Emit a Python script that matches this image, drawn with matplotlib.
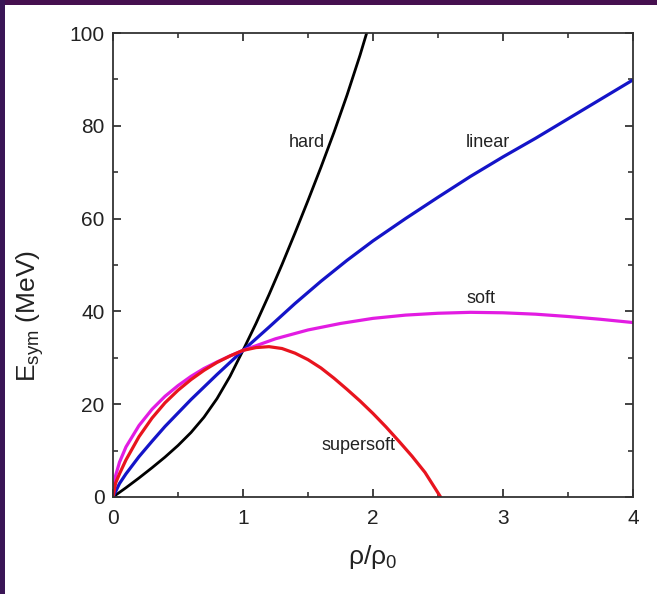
import matplotlib
matplotlib.use("Agg")
import matplotlib.pyplot as plt
from matplotlib.patches import Rectangle

plt.rcParams['font.family'] = ['Liberation Sans', 'DejaVu Sans']
plt.rcParams['mathtext.fontset'] = 'custom'
plt.rcParams['mathtext.rm'] = 'Liberation Sans'
plt.rcParams['mathtext.it'] = 'Liberation Sans:italic'

# ---- data ----
hard_x = [0, 0.1, 0.2, 0.3, 0.4, 0.5, 0.6, 0.7, 0.8, 0.9, 1.0, 1.1, 1.2, 1.3, 1.4, 1.5, 1.6, 1.7, 1.8, 1.9, 1.96]
hard_y = [0, 2.0, 4.1, 6.3, 8.6, 11.1, 13.9, 17.2, 21.2, 26.0, 31.6, 37.4, 43.6, 50.1, 56.9, 63.9, 71.1, 78.6, 86.6, 95.2, 100.8]

linear_x = [0, 0.05, 0.1, 0.2, 0.3, 0.4, 0.5, 0.6, 0.7, 0.8, 0.9, 1.0, 1.2, 1.4, 1.6, 1.8, 2.0, 2.25, 2.5, 2.75, 3.0, 3.25, 3.5, 3.75, 4.0]
linear_y = [0, 2.9, 5.0, 8.7, 12.0, 15.2, 18.1, 21.0, 23.7, 26.4, 29.0, 31.6, 36.6, 41.7, 46.5, 51.0, 55.2, 60.0, 64.6, 69.1, 73.3, 77.3, 81.5, 85.7, 89.9]

soft_x = [0, 0.02, 0.05, 0.1, 0.2, 0.3, 0.4, 0.5, 0.6, 0.7, 0.8, 0.9, 1.0, 1.25, 1.5, 1.75, 2.0, 2.25, 2.5, 2.75, 3.0, 3.25, 3.5, 3.75, 4.0]
soft_y = [0, 4.6, 7.5, 10.8, 15.4, 18.9, 21.7, 24.0, 26.0, 27.7, 29.1, 30.4, 31.6, 34.1, 36.0, 37.4, 38.5, 39.2, 39.6, 39.8, 39.7, 39.4, 38.9, 38.3, 37.6]

supersoft_x = [0, 0.02, 0.05, 0.1, 0.2, 0.3, 0.4, 0.5, 0.6, 0.7, 0.8, 0.9, 1.0, 1.1, 1.2, 1.3, 1.4, 1.5, 1.6, 1.7, 1.8, 1.9, 2.0, 2.1, 2.2, 2.3, 2.4, 2.52]
supersoft_y = [0, 3.0, 5.0, 8.0, 13.0, 17.0, 20.3, 23.0, 25.3, 27.3, 29.0, 30.4, 31.6, 32.2, 32.4, 32.0, 31.0, 29.6, 27.8, 25.6, 23.2, 20.7, 18.0, 15.1, 12.0, 8.8, 5.3, 0]

labels = ["hard", "linear", "soft", "supersoft"]
label_pos = [(1.49, 76.3), (2.88, 76.3), (2.83, 42.7), (1.89, 11.2)]

xticks = [0, 1, 2, 3, 4]
yticks = [0, 20, 40, 60, 80, 100]

W, H = 657, 594
fig = plt.figure(figsize=(W / 100, H / 100), dpi=100)
fig.patch.set_facecolor('white')
# dark purple frame strips (top and left)
fig.patches.append(Rectangle((0, 1 - 5 / H), 1, 5 / H, transform=fig.transFigure,
                             facecolor='#46104f', edgecolor='none', zorder=-10))
fig.patches.append(Rectangle((0, 0), 5 / W, 1, transform=fig.transFigure,
                             facecolor='#3a1556', edgecolor='none', zorder=-10))

ax = fig.add_axes([113 / W, 1 - 497 / H, 520 / W, 464 / H])
ax.set_facecolor('white')

ax.plot(hard_x, hard_y, color='black', lw=2.0)
ax.plot(linear_x, linear_y, color='#1414c8', lw=2.3)
ax.plot(soft_x, soft_y, color='#e21ce2', lw=2.3)
ax.plot(supersoft_x, supersoft_y, color='#e8141e', lw=2.3)

for t, (px, py) in zip(labels, label_pos):
    ax.text(px, py, t, ha='center', va='center', fontsize=13, color='#222222')

ax.set_xlim(0, 4)
ax.set_ylim(0, 100)
ax.set_xticks(xticks)
ax.set_yticks(yticks)
ax.set_xticks([0.5, 1.5, 2.5, 3.5], minor=True)
ax.set_yticks([10, 30, 50, 70, 90], minor=True)
ax.tick_params(which='both', direction='in', top=True, right=True, color='#333333', width=1.2)
ax.tick_params(which='major', length=6, labelsize=15, colors='#222222')
ax.tick_params(which='minor', length=3.5)
ax.tick_params(axis='x', pad=9)
ax.tick_params(axis='y', pad=6)
for s in ax.spines.values():
    s.set_color('#333333')
    s.set_linewidth(1.3)

fig.text(30 / W, 1 - 316 / H, r'E$_{\rm sym}$ (MeV)', rotation=90, ha='center', va='center',
         fontsize=19, color='#222222')
fig.text(373 / W, 1 - 557 / H, r'ρ/ρ$_{\rm 0}$', ha='center', va='center', fontsize=19, color='#222222')

fig.savefig('out.png', dpi=100, facecolor=fig.get_facecolor())
